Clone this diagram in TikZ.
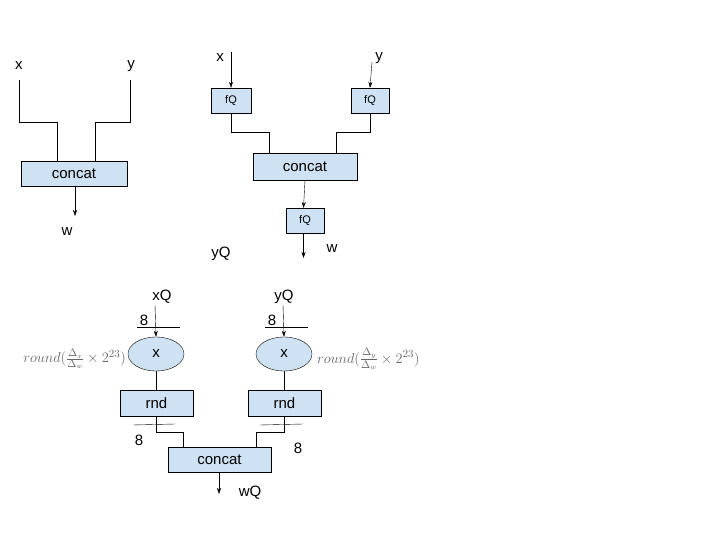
\documentclass[tikz,border=0pt]{standalone}
\usepackage{fontspec}
\setmainfont{Liberation Sans}
\usetikzlibrary{arrows.meta,shapes.geometric}
\definecolor{boxblue}{RGB}{207,226,243}
\begin{document}
\begin{tikzpicture}[x=1pt,y=-1pt,
  blk/.style={draw,fill=boxblue,inner sep=0pt,font=\fontsize{15}{17}\selectfont},
  lbl/.style={inner sep=0pt,font=\fontsize{15}{17}\selectfont},
  arr/.style={-{Stealth[length=6pt,width=4pt]}},
  small/.style={font=\fontsize{11}{12}\selectfont}]
\useasboundingbox (0,0) rectangle (720,540);
% left
\node[lbl] (lx) at (19,66) {x};
\node[lbl] (ly) at (131,66) {y};
\node[blk,minimum width=106pt,minimum height=25pt] (c1) at (74,173.5) {concat};
\coordinate (c1a) at (57,161); \coordinate (c1b) at (95,161);
\draw (19,80) |- (57,122) -- (c1a);
\draw (130,80) |- (95,122) -- (c1b);
\coordinate (w1e) at (75,216);
\draw[arr] (75,186) -- (w1e);
\node[lbl] (w1) at (67,232) {w};
% middle
\node[lbl] (mx) at (220,58) {x};
\node[lbl] (my) at (379,58) {y};
\node[blk,small,minimum width=40pt,minimum height=25pt] (f1) at (231,100.5) {fQ};
\node[blk,small,minimum width=38pt,minimum height=25pt] (f2) at (370,100.5) {fQ};
\draw[arr] (231,52) -- (f1.north);
\draw[arr] (372,62) -- (f2.north);
\node[blk,minimum width=104pt,minimum height=27pt] (c2) at (305,166.5) {concat};
\draw (f1.south) |- (269,132) -- (269,153);
\draw (f2.south) |- (336,132) -- (336,153);
\node[blk,small,minimum width=38pt,minimum height=25pt] (f3) at (305,220.5) {fQ};
\draw[arr] (305,180) -- (303.5,208);
\coordinate (w2e) at (303.5,258);
\draw[arr] (303.5,233) -- (w2e);
\node[lbl] (w2) at (332,249) {w};
\node[lbl] (yq0) at (221,254) {yQ};
% bottom
\node[lbl] (xq) at (162,297) {xQ};
\node[lbl] (yq) at (284,297) {yQ};
\node[blk,ellipse,minimum width=56pt,minimum height=34pt] (e1) at (156,354) {x};
\node[blk,ellipse,minimum width=56pt,minimum height=34pt] (e2) at (284,354) {x};
\draw[arr] (155,305) -- (e1.north);
\draw[arr] (283,305) -- (e2.north);
\draw (137,327) -- (180,327); \node[lbl] (n1) at (144,320) {8};
\draw (265,327) -- (308,327); \node[lbl] (n2) at (272,320) {8};
\node[inner sep=0pt,anchor=east,text=gray!80!black,font=\fontsize{15}{17}\selectfont] (r1) at (126,359) {$round(\frac{\Delta_x}{\Delta_w}\times 2^{23})$};
\node[inner sep=0pt,anchor=west,text=gray!80!black,font=\fontsize{15}{17}\selectfont] (r2) at (317,359) {$round(\frac{\Delta_y}{\Delta_w}\times 2^{23})$};
\node[blk,minimum width=73pt,minimum height=26pt] (rn1) at (156.5,403) {rnd};
\node[blk,minimum width=73pt,minimum height=26pt] (rn2) at (284.5,403) {rnd};
\draw (e1.south) -- (rn1.north -| e1.south);
\draw (e2.south) -- (rn2.north -| e2.south);
\draw (133,425) -- (175,424); \node[lbl] (n3) at (139,440) {8};
\draw (260,425) -- (303,424); \node[lbl] (n4) at (298,448) {8};
\node[blk,minimum width=103pt,minimum height=25pt] (c3) at (219.5,459.5) {concat};
\draw (156,416) |- (183,432) -- (183,447);
\draw (284,416) |- (256,432) -- (256,447);
\coordinate (w3e) at (219,494);
\draw[arr] (219,472) -- (w3e);
\node[lbl] (wq) at (250,493) {wQ};
\end{tikzpicture}
\end{document}
